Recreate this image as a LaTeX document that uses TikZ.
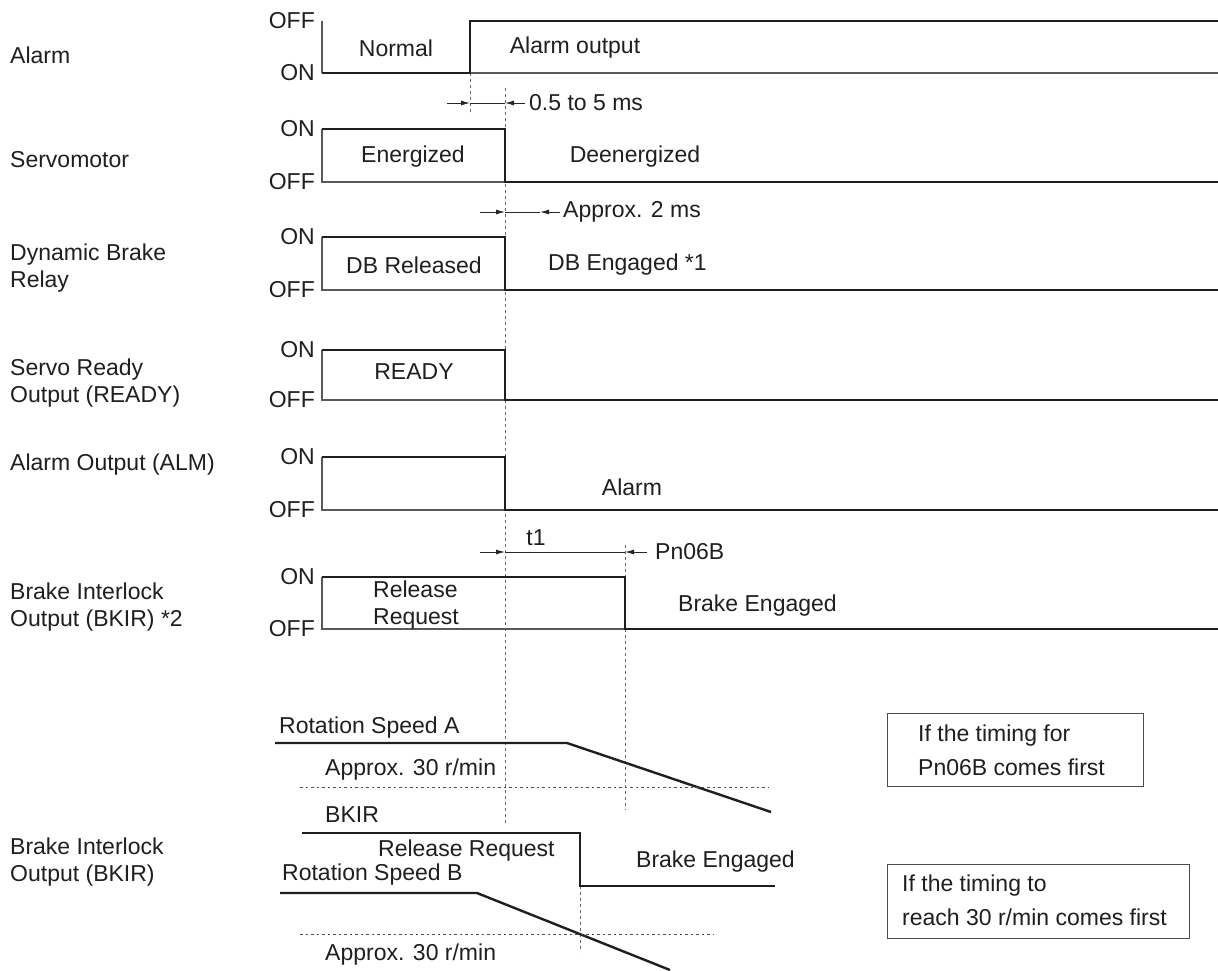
\documentclass[tikz,border=0pt]{standalone}
\usepackage{fontspec}
\setmainfont{Liberation Sans}
\usetikzlibrary{arrows.meta}
\begin{document}
\begin{tikzpicture}[x=1pt,y=-1pt,
  every node/.style={font=\fontsize{23}{27}\selectfont, text=black!88, inner sep=0pt},
  sig/.style={line width=2.4pt, black!88, line join=miter},
  thinline/.style={line width=1.1pt, black!65},
  vguide/.style={dash pattern=on 3pt off 3pt, line width=1pt, black!60},
  hguide/.style={dash pattern=on 2.5pt off 3pt, line width=1pt, black!70},
  dimline/.style={line width=1pt, black!85},
  tip/.style={-{Latex[length=9pt,width=5pt]}},
  lbl/.style={anchor=west, align=left},
  lvl/.style={anchor=east},
  boxstyle/.style={draw=black!70, line width=1.1pt, anchor=north west},
  boxtext/.style={anchor=west, align=left, font=\fontsize{23}{34}\selectfont}
]
\useasboundingbox (0,0) rectangle (1218,970);
\fill[white] (0,0) rectangle (1218,970);

% ---------- left labels ----------
\node[lbl] (lab1) at (10,55) {Alarm};
\node[lbl] (lab2) at (10,160) {Servomotor};
\node[lbl] (lab3) at (10,268) {Dynamic Brake\\Relay};
\node[lbl] (lab4) at (10,383) {Servo Ready\\Output (READY)};
\node[lbl] (lab5) at (10,465) {Alarm Output (ALM)};
\node[lbl] (lab6) at (10,607) {Brake Interlock\\Output (BKIR) *2};
\node[lbl] (lab7) at (10,862) {Brake Interlock\\Output (BKIR)};

% ---------- level labels ----------
\node[lvl] (off1) at (315,21) {OFF};
\node[lvl] (on1)  at (315,73) {ON};
\node[lvl] (on2)  at (315,129) {ON};
\node[lvl] (off2) at (315,182) {OFF};
\node[lvl] (on3)  at (315,237) {ON};
\node[lvl] (off3) at (315,290) {OFF};
\node[lvl] (on4)  at (315,350) {ON};
\node[lvl] (off4) at (315,400) {OFF};
\node[lvl] (on5)  at (315,457) {ON};
\node[lvl] (off5) at (315,510) {OFF};
\node[lvl] (on6)  at (315,577) {ON};
\node[lvl] (off6) at (315,629) {OFF};

% ---------- guide lines (vertical) ----------
\draw[vguide] (470,73) -- (470,115);
\draw[vguide] (505,88) -- (505,823);
\draw[vguide] (625,545) -- (625,810);
\draw[vguide] (580,886) -- (580,952);

% ---------- Alarm ----------
\draw[thinline] (322,21) -- (322,73);
\draw[thinline] (470,73) -- (1218,73);
\draw[sig] (322,73) -- (470,73) -- (470,21) -- (1218,21);
\node (t1a) at (396,48) {Normal};
\node (t1b) at (575,48) {Alarm output};

% ---------- Servomotor ----------
\draw[thinline] (322,129) -- (322,182) -- (505,182);
\draw[sig] (322,129) -- (505,129) -- (505,182) -- (1218,182);
\node (t2a) at (413,157) {Energized};
\node (t2b) at (635,157) {Deenergized};

% ---------- Dynamic brake relay ----------
\draw[thinline] (322,237) -- (322,290) -- (505,290);
\draw[sig] (322,237) -- (505,237) -- (505,290) -- (1218,290);
\node (t3a) at (414,265) {DB Released};
\node[anchor=west] (t3b) at (548,265) {DB Engaged *1};

% ---------- Servo ready ----------
\draw[thinline] (322,350) -- (322,400) -- (505,400);
\draw[sig] (322,350) -- (505,350) -- (505,400) -- (1218,400);
\node (t4a) at (414,372) {READY};

% ---------- Alarm output ----------
\draw[thinline] (322,457) -- (322,510) -- (505,510);
\draw[sig] (322,457) -- (505,457) -- (505,510) -- (1218,510);
\node (t5a) at (632,487) {Alarm};

% ---------- Brake interlock ----------
\draw[thinline] (322,577) -- (322,629) -- (625,629);
\draw[sig] (322,577) -- (625,577) -- (625,629) -- (1218,629);
\node[lbl] (t6a) at (373,605) {Release\\Request};
\node[anchor=west] (t6b) at (678,606) {Brake Engaged};

% ---------- dimension arrows ----------
\coordinate (d1a) at (447,103); \coordinate (d1b) at (470,103);
\coordinate (d1c) at (505,103); \coordinate (d1d) at (525,103);
\draw[dimline] (d1b) -- (d1c);
\draw[dimline,tip] (d1a) -- (d1b);
\draw[dimline,tip] (d1d) -- (d1c);
\node[anchor=west] (dim1) at (529,103) {0.5 to 5 ms};

\coordinate (d2a) at (480,212); \coordinate (d2b) at (505,212);
\coordinate (d2c) at (540,212); \coordinate (d2d) at (560,212);
\draw[dimline] (d2b) -- (d2c);
\draw[dimline,tip] (d2a) -- (d2b);
\draw[dimline,tip] (d2d) -- (d2c);
\node[anchor=west] (dim2) at (563,212) {Approx. 2 ms};

\coordinate (d3a) at (480,552); \coordinate (d3b) at (505,552);
\coordinate (d3c) at (625,552); \coordinate (d3d) at (647,552);
\draw[dimline] (d3b) -- (d3c);
\draw[dimline,tip] (d3a) -- (d3b);
\draw[dimline,tip] (d3d) -- (d3c);
\node (dim3) at (536,538) {t1};
\node[anchor=west] (dim3b) at (655,552) {Pn06B};

% ---------- speed curves ----------
\node[anchor=west] (rsA) at (279,728) {Rotation Speed A};
\draw[sig] (275,743) -- (567,743) -- (771,812);
\node[anchor=west] (apA) at (325,770) {Approx. 30 r/min};
\draw[hguide] (300,787) -- (768,787);

\node[anchor=west] (bk) at (325,815) {BKIR};
\draw[sig] (302,833) -- (580,833) -- (580,886) -- (775,886);
\node[anchor=west] (rr) at (378,851) {Release Request};
\node[anchor=west] (be) at (636,862) {Brake Engaged};

\node[anchor=west] (rsB) at (282,875) {Rotation Speed B};
\draw[sig] (280,893) -- (477,893) -- (670,970);
\draw[hguide] (300,934) -- (714,934);
\node[anchor=west] (apB) at (325,955) {Approx. 30 r/min};

% ---------- boxes ----------
\node[boxstyle, minimum width=256pt, minimum height=73pt] (box1) at (887,713) {};
\node[boxtext] (box1t) at (918,750) {If the timing for\\Pn06B comes first};
\node[boxstyle, minimum width=302pt, minimum height=74pt] (box2) at (887,864) {};
\node[boxtext] (box2t) at (902,900) {If the timing to\\reach 30 r/min comes first};
\end{tikzpicture}
\end{document}
